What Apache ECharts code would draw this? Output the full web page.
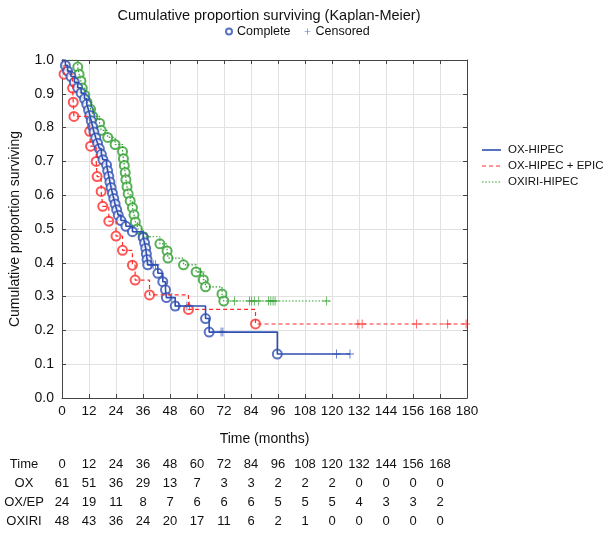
<!DOCTYPE html>
<html><head><meta charset="utf-8">
<script src="https://cdn.jsdelivr.net/npm/echarts@6/dist/echarts.min.js"></script>
<style>html,body{margin:0;padding:0;background:#fff}#c{width:607px;height:533px}</style>
</head><body><div id="c"></div>
<script>
// ---- data ----
const groupNames = ['OX-HIPEC', 'OX-HIPEC + EPIC', 'OXIRI-HIPEC'];
const oxEvents = [[1.5,0.984],[2.5,0.967],[4,0.951],[5.5,0.934],[7,0.918],[8.5,0.902],[10,0.885],[11,0.869],[11.8,0.852],[12.4,0.836],[13,0.820],[13.6,0.803],[14.2,0.787],[15,0.770],[15.8,0.754],[16.6,0.738],[17.5,0.721],[18.2,0.705],[19.8,0.689],[20.3,0.672],[20.8,0.656],[21.3,0.639],[21.8,0.623],[22.4,0.606],[23,0.590],[23.6,0.574],[24.3,0.557],[25,0.541],[26.2,0.525],[28.4,0.508],[31.3,0.492],[36.1,0.475],[36.7,0.459],[37.2,0.443],[37.5,0.426],[37.8,0.410],[38.1,0.394],[42.6,0.369],[44.8,0.344],[46,0.320],[46.4,0.297],[50.3,0.272],[63.8,0.235],[65.4,0.195],[95.7,0.130]];
const oxCensored = [[39.5,0.394],[40.5,0.394],[41.5,0.394],[48.8,0.297],[51.8,0.272],[55.5,0.272],[56.6,0.272],[70.7,0.195],[71.5,0.195],[122,0.130],[128,0.130]];
const oxEnd = 128;
const epEvents = [[0.9,0.958],[4.7,0.917],[5.0,0.875],[5.3,0.833],[12.3,0.789],[12.7,0.745],[15.2,0.700],[15.6,0.655],[17.4,0.611],[18.1,0.567],[20.8,0.523],[24.0,0.479],[26.9,0.437],[31.3,0.393],[32.5,0.349],[38.9,0.305],[56.2,0.262],[86.0,0.219]];
const epCensored = [[131.5,0.219],[133.4,0.219],[157.6,0.219],[171.4,0.219],[179.6,0.219]];
const epEnd = 180;
const irEvents = [[7.0,0.979],[7.6,0.958],[8.4,0.938],[9.0,0.917],[10.1,0.896],[11.1,0.875],[12.7,0.854],[13.7,0.833],[16.7,0.813],[17.4,0.792],[20.3,0.771],[23.6,0.750],[26.9,0.729],[27.3,0.708],[27.7,0.688],[28.1,0.667],[28.4,0.646],[28.9,0.625],[29.4,0.604],[30.3,0.583],[31.3,0.563],[32.0,0.542],[32.6,0.521],[33.5,0.500],[36.1,0.477],[43.5,0.456],[46.7,0.435],[47.1,0.414],[54.0,0.394],[59.6,0.373],[62.8,0.350],[63.8,0.329],[71.1,0.308],[71.9,0.287]];
const irCensored = [[36.8,0.477],[37.6,0.477],[61.6,0.373],[76.7,0.287],[83.3,0.287],[84.3,0.287],[85.5,0.287],[87.4,0.287],[91.8,0.287],[92.8,0.287],[93.8,0.287],[94.7,0.287],[117.6,0.287]];
const irEnd = 119;
const tableTimes = [0,12,24,36,48,60,72,84,96,108,120,132,144,156,168];
const tableRowLabels = ['Time','OX','OX/EP','OXIRI'];
const riskOX = [61,51,36,29,13,7,3,3,2,2,2,0,0,0,0];
const riskEP = [24,19,11,8,7,6,6,6,5,5,5,4,3,3,2];
const riskIR = [48,43,36,24,20,17,11,6,2,1,0,0,0,0,0];

// ---- chart ----
const FONT = '"Liberation Sans", Arial, Helvetica, sans-serif';
const BLUE = '#2f4fb3', RED = '#ff2b2b', GREEN = '#2f9e2f';
const PLUS = 'path://M4,0 L5,0 L5,4 L9,4 L9,5 L5,5 L5,9 L4,9 L4,5 L0,5 L0,4 L4,4 Z';

function stepLine(events, end) {
  const d = [[0, 1]].concat(events);
  d.push([end, events[events.length - 1][1]]);
  return d;
}

const groups = [
  {name: groupNames[2], ev: irEvents, ce: irCensored, end: irEnd, color: GREEN, type: [1.5, 1.8], width: 1.2},
  {name: groupNames[1], ev: epEvents, ce: epCensored, end: epEnd, color: RED, type: [4, 3], width: 1.2},
  {name: groupNames[0], ev: oxEvents, ce: oxCensored, end: oxEnd, color: BLUE, type: 'solid', width: 1.6}
];

const series = [];
groups.forEach(g => {
  series.push({
    name: g.name, type: 'line', step: 'end', data: stepLine(g.ev, g.end),
    showSymbol: false, symbol: 'none', animation: false,
    lineStyle: {color: g.color, width: g.width, type: g.type},
    itemStyle: {color: g.color}
  });
  series.push({
    name: g.name + ' events', type: 'scatter', data: g.ev, symbol: 'emptyCircle', symbolSize: 9,
    animation: false, itemStyle: {color: g.color, borderColor: g.color, borderWidth: 1.1}
  });
  series.push({
    name: g.name + ' censored', type: 'scatter', data: g.ce, symbol: PLUS, symbolSize: [8, 9],
    animation: false, itemStyle: {color: g.color}
  });
});
series.push({name: 'Complete', type: 'scatter', data: [], symbol: 'emptyCircle', itemStyle: {color: BLUE, borderColor: BLUE, borderWidth: 1}});
series.push({name: 'Censored', type: 'scatter', data: [], symbol: PLUS, itemStyle: {color: BLUE}});

const axisLineStyle = {color: '#444', width: 1};
const chart = echarts.init(document.getElementById('c'), null, {renderer: 'canvas'});
chart.setOption({
  backgroundColor: '#fff',
  animation: false,
  textStyle: {fontFamily: FONT},
  title: {text: 'Cumulative proportion surviving (Kaplan-Meier)', left: 264, top: 3, textAlign: 'center',
    textStyle: {fontSize: 14.5, fontWeight: 'normal', color: '#111', fontFamily: FONT}},
  legend: [
    {data: ['Complete', 'Censored'], left: 220, top: 20, itemWidth: 6, itemHeight: 6, itemGap: 14,
      textStyle: {fontSize: 12.5, color: '#111', fontFamily: FONT}, selectedMode: false}
  ],
  grid: {left: 57, right: 140, top: 60, bottom: 135, containLabel: false},
  xAxis: [
    {type: 'value', min: 0, max: 180, interval: 12, position: 'bottom',
      axisLine: {show: true, onZero: false, lineStyle: axisLineStyle},
      axisTick: {show: true, inside: true, length: 4, lineStyle: axisLineStyle},
      axisLabel: {color: '#111', fontSize: 13.5, fontFamily: FONT, margin: 6},
      splitLine: {show: true, lineStyle: {color: '#e2e2e2', width: 1}},
      name: 'Time (months)', nameLocation: 'middle', nameGap: 34,
      nameTextStyle: {color: '#111', fontSize: 14, fontFamily: FONT}},
    {type: 'value', min: 0, max: 180, interval: 12, position: 'top',
      axisLine: {show: true, onZero: false, lineStyle: axisLineStyle},
      axisTick: {show: true, inside: true, length: 4, lineStyle: axisLineStyle},
      axisLabel: {show: false}, splitLine: {show: false}}
  ],
  yAxis: [
    {type: 'value', min: 0, max: 1, interval: 0.1, position: 'left',
      axisLine: {show: true, onZero: false, lineStyle: axisLineStyle},
      axisTick: {show: true, inside: true, length: 4, lineStyle: axisLineStyle},
      axisLabel: {color: '#111', fontSize: 14, fontFamily: FONT, margin: 8, formatter: v => v.toFixed(1)},
      splitLine: {show: true, lineStyle: {color: '#e2e2e2', width: 1}},
      name: 'Cumulative proportion surviving', nameLocation: 'middle', nameGap: 40, nameRotate: 90,
      nameTextStyle: {color: '#111', fontSize: 14, fontFamily: FONT}},
    {type: 'value', min: 0, max: 1, interval: 0.1, position: 'right',
      axisLine: {show: true, onZero: false, lineStyle: axisLineStyle},
      axisTick: {show: true, inside: true, length: 4, lineStyle: axisLineStyle},
      axisLabel: {show: false}, splitLine: {show: false}}
  ],
  series: series
});

const graphics = [];
// right-hand legend: line samples and names
const legY = [150, 166, 182];
[groups[2], groups[1], groups[0]].forEach((g, i) => {
  graphics.push({type: 'line', shape: {x1: 482, y1: legY[i], x2: 501, y2: legY[i]},
    style: {stroke: g.color, lineWidth: g.width, lineDash: g.type === 'solid' ? null : g.type}});
  graphics.push({type: 'text', x: 508, y: legY[i], style: {text: g.name, align: 'left', verticalAlign: 'middle',
    fontSize: 11.5, fontFamily: FONT, fill: '#111'}});
});
// risk table, columns placed on the x scale
const rows = [tableTimes, riskOX, riskEP, riskIR];
const rowY = [464, 483, 502, 521];
rows.forEach((r, ri) => {
  graphics.push({type: 'text', x: 24, y: rowY[ri], style: {text: tableRowLabels[ri], align: 'center', verticalAlign: 'middle',
    fontSize: 13, fontFamily: FONT, fill: '#111'}});
  r.forEach((v, ci) => {
    const px = chart.convertToPixel({xAxisIndex: 0}, tableTimes[ci]);
    graphics.push({type: 'text', x: px, y: rowY[ri], style: {text: String(v), align: 'center', verticalAlign: 'middle',
      fontSize: 13, fontFamily: FONT, fill: '#111'}});
  });
});
chart.setOption({graphic: graphics});
</script></body></html>
